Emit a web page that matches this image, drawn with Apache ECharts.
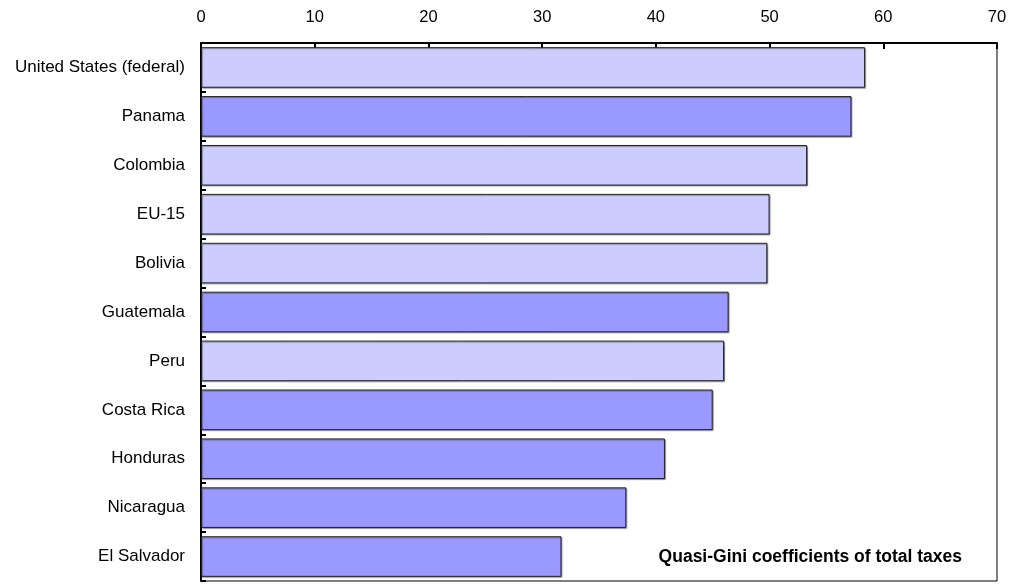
<!DOCTYPE html>
<html><head><meta charset="utf-8">
<script src="https://cdn.jsdelivr.net/npm/echarts@6/dist/echarts.min.js"></script>
<style>html,body{margin:0;padding:0;background:#fff}#c{width:1013px;height:584px}</style>
</head><body><div id="c"></div>
<script>
const categories = ["United States (federal)","Panama","Colombia","EU-15","Bolivia","Guatemala","Peru","Costa Rica","Honduras","Nicaragua","El Salvador"];
const values = [58.4, 57.2, 53.3, 50.0, 49.8, 46.4, 46.0, 45.0, 40.8, 37.4, 31.7];
const shades = ["light","dark","light","light","light","dark","light","dark","dark","dark","dark"];
const xTicks = [0,10,20,30,40,50,60,70];
const caption = "Quasi-Gini coefficients of total taxes";

const palette = {light: "#CCCCFF", dark: "#9999FF"};
const chart = echarts.init(document.getElementById('c'));
chart.setOption({
  animation: false,
  textStyle: {fontFamily: "'Liberation Sans', Arial, sans-serif"},
  grid: {left: 201, right: 16, top: 43, bottom: 3, show: true, borderColor: "#000", borderWidth: 1, containLabel: false},
  xAxis: {
    type: "value", position: "top", min: xTicks[0], max: xTicks[xTicks.length-1], interval: 10,
    axisLine: {show: true, lineStyle: {color: "#000", width: 2}},
    axisTick: {show: true, inside: true, length: 6, lineStyle: {color: "#000", width: 2}},
    axisLabel: {color: "#000", fontSize: 16.5, margin: 17},
    splitLine: {show: false}
  },
  yAxis: {
    type: "category", inverse: true, data: categories,
    axisLine: {show: true, lineStyle: {color: "#000", width: 2}},
    axisTick: {show: true, inside: true, length: 5, lineStyle: {color: "#000", width: 2}},
    axisLabel: {color: "#000", fontSize: 17, margin: 16}
  },
  series: [{
    type: "bar",
    barCategoryGap: "17%",
    data: values.map((v, i) => ({value: v, itemStyle: {color: palette[shades[i]]}})),
    itemStyle: {borderColor: "#222", borderWidth: 1, shadowColor: "rgba(0,0,0,0.35)", shadowOffsetX: 1, shadowOffsetY: 1, shadowBlur: 1}
  }],
  graphic: [{
    type: "text", right: 51, top: 548,
    style: {text: caption, font: "bold 17.5px 'Liberation Sans', Arial, sans-serif", fill: "#000"}
  }]
});
</script></body></html>
